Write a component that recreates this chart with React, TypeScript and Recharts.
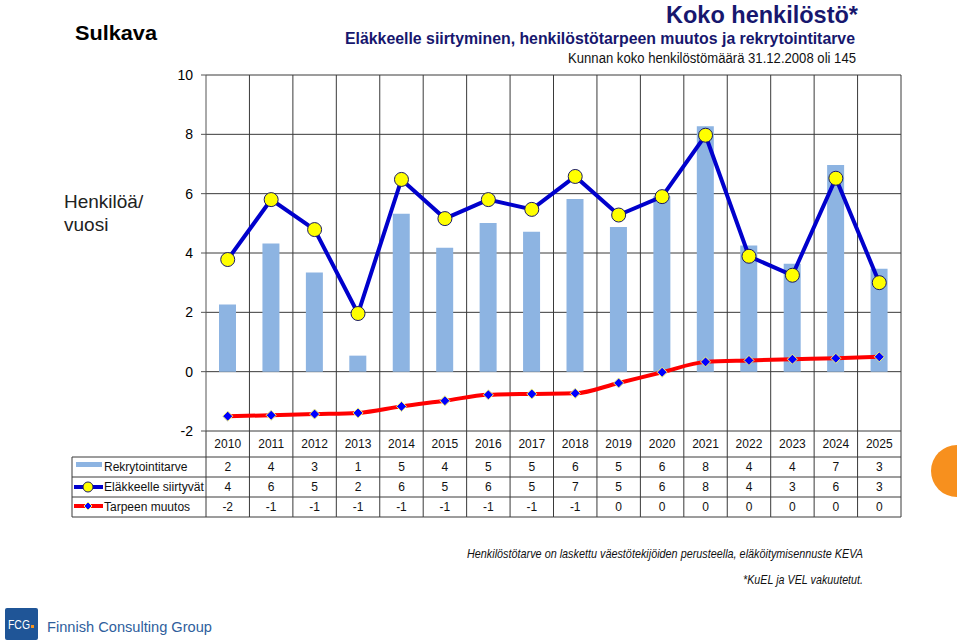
import { ComposedChart, Bar, Line, XAxis, YAxis, CartesianGrid } from 'recharts';

const years = ['2010', '2011', '2012', '2013', '2014', '2015', '2016', '2017', '2018', '2019', '2020', '2021', '2022', '2023', '2024', '2025'];
const rekry = [2.26, 4.32, 3.34, 0.54, 5.32, 4.18, 5.01, 4.72, 5.82, 4.88, 5.91, 8.27, 4.25, 3.64, 6.97, 3.47];
const elak = [3.78, 5.8, 4.79, 1.96, 6.48, 5.16, 5.8, 5.47, 6.58, 5.28, 5.9, 7.97, 3.89, 3.25, 6.52, 3.0];
const muutos = [-1.5, -1.47, -1.43, -1.39, -1.17, -0.98, -0.78, -0.75, -0.73, -0.38, -0.02, 0.33, 0.38, 0.42, 0.45, 0.5];

// numbers shown in the data table under the chart
const tableRekry = ['2', '4', '3', '1', '5', '4', '5', '5', '6', '5', '6', '8', '4', '4', '7', '3'];
const tableElak = ['4', '6', '5', '2', '6', '5', '6', '5', '7', '5', '6', '8', '4', '3', '6', '3'];
const tableMuutos = ['-2', '-1', '-1', '-1', '-1', '-1', '-1', '-1', '-1', '0', '0', '0', '0', '0', '0', '0'];

const yTicks = [-2, 0, 2, 4, 6, 8, 10];

const W = 960;
const H = 644;
const M = { top: 75, right: 59, bottom: 183, left: 146 };
const PLOT_L = 206;
const PLOT_R = W - M.right;
const PLOT_B = 431;
const COL_W = (PLOT_R - PLOT_L) / years.length;
const ROWS = [457, 477, 497, 517];
const LINE = '#3a3a3a';

const data = years.map((year, i) => ({
  year,
  rekry: rekry[i],
  elak: elak[i],
  muutos: muutos[i],
  tRekry: tableRekry[i],
  tElak: tableElak[i],
  tMuutos: tableMuutos[i],
}));

function TableTick(props: any) {
  const { x, payload, index } = props;
  const row = data[index];
  const l = x - COL_W / 2;
  const r = x + COL_W / 2;
  const txt = { fontSize: 12, fontFamily: 'Arial, "Liberation Sans", sans-serif', fill: '#111', textAnchor: 'middle' as const };
  return (
    <g>
      {index === 0 && <line x1={l} y1={PLOT_B} x2={l} y2={ROWS[3]} stroke={LINE} />}
      <line x1={r} y1={PLOT_B} x2={r} y2={ROWS[3]} stroke={LINE} />
      {ROWS.map((y) => (
        <line key={y} x1={l} y1={y} x2={r} y2={y} stroke={LINE} />
      ))}
      <text x={x} y={448} {...txt}>{payload.value}</text>
      <text x={x} y={471} {...txt}>{row.tRekry}</text>
      <text x={x} y={491} {...txt}>{row.tElak}</text>
      <text x={x} y={511} {...txt}>{row.tMuutos}</text>
    </g>
  );
}

function Diamond(props: any) {
  const { cx, cy } = props;
  if (cx == null || cy == null) return null;
  const s = 5;
  return (
    <polygon
      points={`${cx},${cy - s} ${cx + s},${cy} ${cx},${cy + s} ${cx - s},${cy}`}
      fill="#0000FF"
      stroke="#F2F27A"
      strokeWidth={1}
    />
  );
}

function Overlay() {
  const narrow = '"Liberation Sans Narrow", "Arial Narrow", Arial, sans-serif';
  const arial = 'Arial, "Liberation Sans", sans-serif';
  const navy = '#17176E';
  return (
    <svg width={W} height={H} style={{ position: 'absolute', left: 0, top: 0, pointerEvents: 'none' }}>
      <text x={75} y={40} fontFamily={arial} fontWeight="bold" fontSize={21} fill="#000" textLength={82} lengthAdjust="spacingAndGlyphs">Sulkava</text>
      <text x={666} y={23} fontFamily={narrow} fontWeight="bold" fontSize={24} fill={navy} textLength={192} lengthAdjust="spacingAndGlyphs">Koko henkilöstö*</text>
      <text x={345} y={44} fontFamily={narrow} fontWeight="bold" fontSize={17} fill={navy} textLength={510} lengthAdjust="spacingAndGlyphs">Eläkkeelle siirtyminen, henkilöstötarpeen muutos ja rekrytointitarve</text>
      <text x={568} y={63} fontFamily={narrow} fontSize={14} fill="#111" textLength={288} lengthAdjust="spacingAndGlyphs">Kunnan koko henkilöstömäärä 31.12.2008 oli 145</text>

      <text x={64} y={208} fontFamily={arial} fontSize={19} fill="#222">Henkilöä/</text>
      <text x={64} y={231} fontFamily={arial} fontSize={19} fill="#222">vuosi</text>

      {/* legend column of the data table */}
      <line x1={72} y1={ROWS[0]} x2={72} y2={ROWS[3]} stroke={LINE} />
      {ROWS.map((y) => (
        <line key={y} x1={72} y1={y} x2={PLOT_L} y2={y} stroke={LINE} />
      ))}
      <rect x={76} y={462} width={26} height={5} fill="#8DB4E2" />
      <text x={104} y={471} fontFamily={arial} fontSize={12} fill="#111">Rekrytointitarve</text>
      <line x1={74} y1={487} x2={103} y2={487} stroke="#0000CC" strokeWidth={4} />
      <circle cx={88} cy={487} r={5} fill="#FFFF00" stroke="#1a1a66" strokeWidth={1} />
      <text x={104} y={491} fontFamily={arial} fontSize={12} fill="#111" textLength={100} lengthAdjust="spacingAndGlyphs">Eläkkeelle siirtyvät</text>
      <line x1={74} y1={506} x2={103} y2={506} stroke="#FF0000" strokeWidth={4} />
      <polygon points="88,502 92,506 88,510 84,506" fill="#0000FF" stroke="#F2F27A" strokeWidth={1} />
      <text x={104} y={511} fontFamily={arial} fontSize={12} fill="#111">Tarpeen muutos</text>

      <text x={467} y={558} fontFamily={arial} fontStyle="italic" fontSize={13} fill="#111" textLength={396} lengthAdjust="spacingAndGlyphs">Henkilöstötarve on laskettu väestötekijöiden  perusteella, eläköitymisennuste  KEVA</text>
      <text x={743} y={584} fontFamily={arial} fontStyle="italic" fontSize={13} fill="#111" textLength={120} lengthAdjust="spacingAndGlyphs">*KuEL ja VEL vakuutetut.</text>

      <path d="M 957 445 A 26 26 0 0 0 957 497 Z" fill="#F7901E" />

      <rect x={5} y={608} width={33} height={32} rx={2} fill="#1F5597" />
      <text x={8} y={629} fontFamily={arial} fontSize={12} fill="#fff" textLength={22} lengthAdjust="spacingAndGlyphs">FCG</text>
      <rect x={31} y={625} width={3} height={3} fill="#F7941D" />
      <text x={47} y={632} fontFamily={arial} fontSize={14} fill="#2E5E9C" textLength={165} lengthAdjust="spacingAndGlyphs">Finnish Consulting Group</text>
    </svg>
  );
}

export default function App() {
  return (
    <div style={{ position: 'relative', width: W, height: H, background: '#fff' }}>
      <style>{'body{margin:0}'}</style>
      <ComposedChart width={W} height={H} data={data} margin={M}>
        <CartesianGrid
          stroke={LINE}
          verticalCoordinatesGenerator={({ offset }: any) =>
            years.map((_, i) => offset.left + (offset.width * (i + 1)) / years.length)
          }
        />
        <XAxis dataKey="year" axisLine={false} tickLine={false} interval={0} height={30} tick={<TableTick />} />
        <YAxis
          domain={[-2, 10]}
          ticks={yTicks}
          width={60}
          stroke="#555"
          tickSize={5}
          tickMargin={8}
          tick={{ fontSize: 14, fill: '#000', fontFamily: 'Arial, "Liberation Sans", sans-serif' }}
        />
        <Bar dataKey="rekry" fill="#8DB4E2" barSize={17} isAnimationActive={false} />
        <Line type="monotone" dataKey="muutos" stroke="#FF0000" strokeWidth={4} dot={<Diamond />} isAnimationActive={false} />
        <Line
          type="linear"
          dataKey="elak"
          stroke="#0000CC"
          strokeWidth={4}
          dot={{ r: 7, fill: '#FFFF00', stroke: '#1a1a66', strokeWidth: 1 }}
          isAnimationActive={false}
        />
      </ComposedChart>
      <Overlay />
    </div>
  );
}
